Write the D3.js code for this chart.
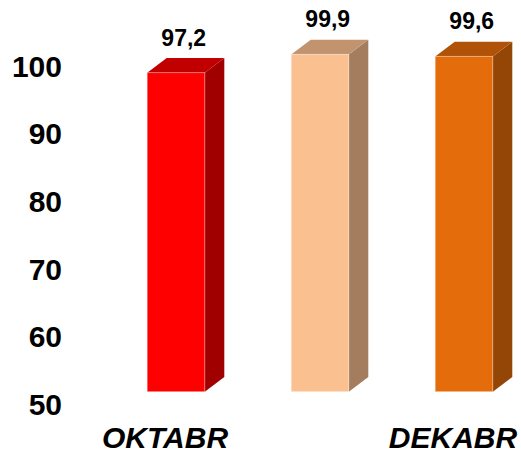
<!DOCTYPE html>
<html>
<head>
<meta charset="utf-8">
<script src="https://cdn.jsdelivr.net/npm/d3@7"></script>
<style>
  body { margin: 0; background: #fff; }
  text { font-family: "Liberation Sans", Arial, sans-serif; font-weight: bold; fill: #000; }
</style>
</head>
<body>
<div id="chart"></div>
<script>
// chart data
const categories = ['OKTABR', 'NOYABR', 'DEKABR'];
const values = [97.2, 99.9, 99.6];
const valueLabels = ['97,2', '99,9', '99,6'];
const shownCategories = ['OKTABR', 'DEKABR'];
const yTicks = [50, 60, 70, 80, 90, 100];
const frontColors = ['#ff0000', '#fac090', '#e46c0a'];
const topColors = ['#c00000', '#c1946f', '#b05308'];
const sideColors = ['#a00000', '#a37d5e', '#944606'];

const width = 521;
const height = 454;
const depthX = 19.5;
const depthY = -14.7;

const svg = d3.select('#chart').append('svg')
    .attr('width', width)
    .attr('height', height);

const xScale = d3.scaleBand()
    .domain(categories)
    .range([104, 536])
    .paddingInner(0.6)
    .paddingOuter(0.3);

const yScale = d3.scaleLinear()
    .domain([50, 100])
    .range([391.7, 53.7]);

// y axis labels sit a bit below the front plane
svg.append('g').attr('class', 'y-axis')
    .attr('transform', 'translate(62, 13)')
    .call(d3.axisLeft(yScale).tickValues(yTicks).tickSize(0).tickPadding(0))
    .call(g => g.select('.domain').remove())
    .selectAll('text')
    .attr('font-size', 30)
    .style('font-family', '"Liberation Sans", Arial, sans-serif')
    .style('font-weight', 'bold');

svg.append('g').attr('class', 'x-axis')
    .attr('transform', 'translate(-11, 448)')
    .call(d3.axisBottom(xScale).tickValues(shownCategories).tickSize(0).tickPadding(0))
    .call(g => g.select('.domain').remove())
    .selectAll('text')
    .attr('dy', 0)
    .attr('y', 0)
    .attr('font-size', 30)
    .style('font-family', '"Liberation Sans", Arial, sans-serif')
    .style('font-weight', 'bold')
    .style('font-style', 'italic');

const data = categories.map((c, i) => ({
    name: c, value: values[i], label: valueLabels[i],
    front: frontColors[i], top: topColors[i], side: sideColors[i]
}));

const bw = xScale.bandwidth();
const y0 = yScale(50);

const bars = svg.selectAll('g.bar').data(data).enter().append('g').attr('class', 'bar');

// side face
bars.append('path')
    .attr('fill', d => d.side)
    .attr('d', d => {
        const x = xScale(d.name) + bw;
        const yt = yScale(d.value);
        return `M${x},${yt}L${x + depthX},${yt + depthY}L${x + depthX},${y0 + depthY}L${x},${y0}Z`;
    });

// top face
bars.append('path')
    .attr('fill', d => d.top)
    .attr('d', d => {
        const x = xScale(d.name);
        const yt = yScale(d.value);
        return `M${x},${yt}L${x + depthX},${yt + depthY}L${x + bw + depthX},${yt + depthY}L${x + bw},${yt}Z`;
    });

// front face
bars.append('rect')
    .attr('x', d => xScale(d.name))
    .attr('y', d => yScale(d.value))
    .attr('width', bw)
    .attr('height', d => y0 - yScale(d.value))
    .attr('fill', d => d.front)
    .attr('stroke', 'rgba(255,255,255,0.35)')
    .attr('stroke-width', 1);

bars.append('text')
    .attr('x', d => xScale(d.name) + (bw + depthX) / 2 - 2)
    .attr('y', d => yScale(d.value) - 27)
    .attr('text-anchor', 'middle')
    .attr('font-size', 23)
    .text(d => d.label);
</script>
</body>
</html>
